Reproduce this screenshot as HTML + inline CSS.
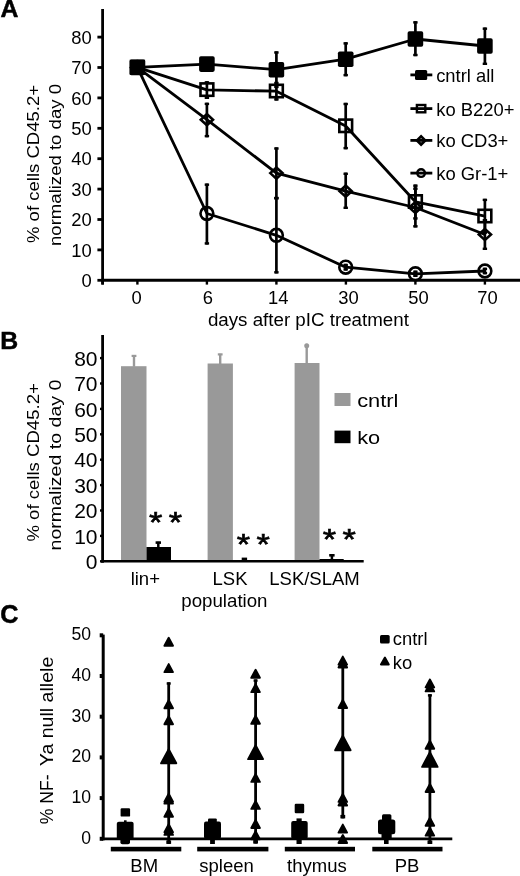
<!DOCTYPE html>
<html><head><meta charset="utf-8"><title>Figure</title>
<style>
html,body{margin:0;padding:0;background:#fff;}
body{width:520px;height:876px;overflow:hidden;}
svg{display:block;}
text{font-family:"Liberation Sans",Arial,sans-serif;fill:#000;}
</style></head><body>
<svg width="520" height="876" viewBox="0 0 520 876">
<rect x="0" y="0" width="520" height="876" fill="#fff"/>
<text x="0.5" y="17.4" font-size="24.8" text-anchor="start" font-weight="bold" stroke="#000" stroke-width="0.5">A</text>
<line x1="102.6" y1="9.0" x2="102.6" y2="284.5" stroke="#000" stroke-width="2.8" />
<line x1="101.2" y1="280.3" x2="520.0" y2="280.3" stroke="#000" stroke-width="3.0" />
<line x1="97.4" y1="280.3" x2="102.6" y2="280.3" stroke="#000" stroke-width="2.8" />
<text x="91.8" y="286.9" font-size="18.4" text-anchor="end" font-weight="normal" >0</text>
<line x1="97.4" y1="249.9" x2="102.6" y2="249.9" stroke="#000" stroke-width="2.8" />
<text x="91.8" y="256.5" font-size="18.4" text-anchor="end" font-weight="normal" >10</text>
<line x1="97.4" y1="219.5" x2="102.6" y2="219.5" stroke="#000" stroke-width="2.8" />
<text x="91.8" y="226.1" font-size="18.4" text-anchor="end" font-weight="normal" >20</text>
<line x1="97.4" y1="189.1" x2="102.6" y2="189.1" stroke="#000" stroke-width="2.8" />
<text x="91.8" y="195.7" font-size="18.4" text-anchor="end" font-weight="normal" >30</text>
<line x1="97.4" y1="158.7" x2="102.6" y2="158.7" stroke="#000" stroke-width="2.8" />
<text x="91.8" y="165.3" font-size="18.4" text-anchor="end" font-weight="normal" >40</text>
<line x1="97.4" y1="128.3" x2="102.6" y2="128.3" stroke="#000" stroke-width="2.8" />
<text x="91.8" y="134.9" font-size="18.4" text-anchor="end" font-weight="normal" >50</text>
<line x1="97.4" y1="97.9" x2="102.6" y2="97.9" stroke="#000" stroke-width="2.8" />
<text x="91.8" y="104.5" font-size="18.4" text-anchor="end" font-weight="normal" >60</text>
<line x1="97.4" y1="67.5" x2="102.6" y2="67.5" stroke="#000" stroke-width="2.8" />
<text x="91.8" y="74.1" font-size="18.4" text-anchor="end" font-weight="normal" >70</text>
<line x1="97.4" y1="37.1" x2="102.6" y2="37.1" stroke="#000" stroke-width="2.8" />
<text x="91.8" y="43.7" font-size="18.4" text-anchor="end" font-weight="normal" >80</text>
<line x1="137.4" y1="280.3" x2="137.4" y2="284.6" stroke="#000" stroke-width="2.4" />
<text x="136.6" y="304.4" font-size="18.4" text-anchor="middle" font-weight="normal" >0</text>
<line x1="206.9" y1="280.3" x2="206.9" y2="284.6" stroke="#000" stroke-width="2.4" />
<text x="207.9" y="304.4" font-size="18.4" text-anchor="middle" font-weight="normal" >6</text>
<line x1="276.4" y1="280.3" x2="276.4" y2="284.6" stroke="#000" stroke-width="2.4" />
<text x="278.2" y="304.4" font-size="18.4" text-anchor="middle" font-weight="normal" >14</text>
<line x1="345.9" y1="280.3" x2="345.9" y2="284.6" stroke="#000" stroke-width="2.4" />
<text x="348.5" y="304.4" font-size="18.4" text-anchor="middle" font-weight="normal" >30</text>
<line x1="415.4" y1="280.3" x2="415.4" y2="284.6" stroke="#000" stroke-width="2.4" />
<text x="418.5" y="304.4" font-size="18.4" text-anchor="middle" font-weight="normal" >50</text>
<line x1="484.9" y1="280.3" x2="484.9" y2="284.6" stroke="#000" stroke-width="2.4" />
<text x="487.5" y="304.4" font-size="18.4" text-anchor="middle" font-weight="normal" >70</text>
<line x1="102.6" y1="280.3" x2="102.6" y2="284.6" stroke="#000" stroke-width="2.4" />
<text x="308.4" y="325.6" font-size="18.7" text-anchor="middle" font-weight="normal" textLength="201" lengthAdjust="spacingAndGlyphs" >days after pIC treatment</text>
<text x="38.6" y="164.0" font-size="17.2" text-anchor="middle" font-weight="normal" textLength="158" lengthAdjust="spacingAndGlyphs" transform="rotate(-90 38.6 164.0)" >% of cells CD45.2+</text>
<text x="60.6" y="165.0" font-size="17.2" text-anchor="middle" font-weight="normal" textLength="162" lengthAdjust="spacingAndGlyphs" transform="rotate(-90 60.6 165.0)" >normalized to day 0</text>
<line x1="276.4" y1="51.3" x2="276.4" y2="88.1" stroke="#000" stroke-width="2.7" />
<line x1="274.2" y1="52.5" x2="278.6" y2="52.5" stroke="#000" stroke-width="2.4" />
<line x1="274.2" y1="86.9" x2="278.6" y2="86.9" stroke="#000" stroke-width="2.4" />
<line x1="345.7" y1="42.2" x2="345.7" y2="76.3" stroke="#000" stroke-width="2.7" />
<line x1="343.5" y1="43.4" x2="347.9" y2="43.4" stroke="#000" stroke-width="2.4" />
<line x1="343.5" y1="75.1" x2="347.9" y2="75.1" stroke="#000" stroke-width="2.4" />
<line x1="415.4" y1="21.2" x2="415.4" y2="56.2" stroke="#000" stroke-width="2.7" />
<line x1="413.2" y1="22.4" x2="417.6" y2="22.4" stroke="#000" stroke-width="2.4" />
<line x1="413.2" y1="55.0" x2="417.6" y2="55.0" stroke="#000" stroke-width="2.4" />
<line x1="484.9" y1="27.5" x2="484.9" y2="65.0" stroke="#000" stroke-width="2.7" />
<line x1="482.7" y1="28.7" x2="487.1" y2="28.7" stroke="#000" stroke-width="2.4" />
<line x1="482.7" y1="63.8" x2="487.1" y2="63.8" stroke="#000" stroke-width="2.4" />
<line x1="206.9" y1="81.2" x2="206.9" y2="99.0" stroke="#000" stroke-width="2.7" />
<line x1="204.7" y1="82.4" x2="209.1" y2="82.4" stroke="#000" stroke-width="2.4" />
<line x1="204.7" y1="97.8" x2="209.1" y2="97.8" stroke="#000" stroke-width="2.4" />
<line x1="276.4" y1="81.8" x2="276.4" y2="100.6" stroke="#000" stroke-width="2.7" />
<line x1="274.2" y1="83.0" x2="278.6" y2="83.0" stroke="#000" stroke-width="2.4" />
<line x1="274.2" y1="99.4" x2="278.6" y2="99.4" stroke="#000" stroke-width="2.4" />
<line x1="345.7" y1="102.8" x2="345.7" y2="149.3" stroke="#000" stroke-width="2.7" />
<line x1="343.5" y1="104.0" x2="347.9" y2="104.0" stroke="#000" stroke-width="2.4" />
<line x1="343.5" y1="148.1" x2="347.9" y2="148.1" stroke="#000" stroke-width="2.4" />
<line x1="415.4" y1="184.5" x2="415.4" y2="219.6" stroke="#000" stroke-width="2.7" />
<line x1="413.2" y1="185.7" x2="417.6" y2="185.7" stroke="#000" stroke-width="2.4" />
<line x1="413.2" y1="218.4" x2="417.6" y2="218.4" stroke="#000" stroke-width="2.4" />
<line x1="484.9" y1="198.8" x2="484.9" y2="233.8" stroke="#000" stroke-width="2.7" />
<line x1="482.7" y1="199.9" x2="487.1" y2="199.9" stroke="#000" stroke-width="2.4" />
<line x1="482.7" y1="232.6" x2="487.1" y2="232.6" stroke="#000" stroke-width="2.4" />
<line x1="206.9" y1="102.7" x2="206.9" y2="137.3" stroke="#000" stroke-width="2.7" />
<line x1="204.7" y1="103.9" x2="209.1" y2="103.9" stroke="#000" stroke-width="2.4" />
<line x1="204.7" y1="136.1" x2="209.1" y2="136.1" stroke="#000" stroke-width="2.4" />
<line x1="276.4" y1="147.3" x2="276.4" y2="199.2" stroke="#000" stroke-width="2.7" />
<line x1="274.2" y1="148.5" x2="278.6" y2="148.5" stroke="#000" stroke-width="2.4" />
<line x1="274.2" y1="198.0" x2="278.6" y2="198.0" stroke="#000" stroke-width="2.4" />
<line x1="345.7" y1="172.6" x2="345.7" y2="209.0" stroke="#000" stroke-width="2.7" />
<line x1="343.5" y1="173.8" x2="347.9" y2="173.8" stroke="#000" stroke-width="2.4" />
<line x1="343.5" y1="207.8" x2="347.9" y2="207.8" stroke="#000" stroke-width="2.4" />
<line x1="415.4" y1="187.5" x2="415.4" y2="227.5" stroke="#000" stroke-width="2.7" />
<line x1="413.2" y1="188.7" x2="417.6" y2="188.7" stroke="#000" stroke-width="2.4" />
<line x1="413.2" y1="226.3" x2="417.6" y2="226.3" stroke="#000" stroke-width="2.4" />
<line x1="484.9" y1="219.0" x2="484.9" y2="250.0" stroke="#000" stroke-width="2.7" />
<line x1="482.7" y1="220.2" x2="487.1" y2="220.2" stroke="#000" stroke-width="2.4" />
<line x1="482.7" y1="248.8" x2="487.1" y2="248.8" stroke="#000" stroke-width="2.4" />
<line x1="206.9" y1="183.5" x2="206.9" y2="244.6" stroke="#000" stroke-width="2.7" />
<line x1="204.7" y1="184.7" x2="209.1" y2="184.7" stroke="#000" stroke-width="2.4" />
<line x1="204.7" y1="243.4" x2="209.1" y2="243.4" stroke="#000" stroke-width="2.4" />
<line x1="276.4" y1="197.1" x2="276.4" y2="273.5" stroke="#000" stroke-width="2.7" />
<line x1="274.2" y1="198.3" x2="278.6" y2="198.3" stroke="#000" stroke-width="2.4" />
<line x1="274.2" y1="272.3" x2="278.6" y2="272.3" stroke="#000" stroke-width="2.4" />
<line x1="345.7" y1="263.8" x2="345.7" y2="270.6" stroke="#000" stroke-width="2.7" />
<line x1="343.5" y1="265.0" x2="347.9" y2="265.0" stroke="#000" stroke-width="2.4" />
<line x1="343.5" y1="269.4" x2="347.9" y2="269.4" stroke="#000" stroke-width="2.4" />
<line x1="415.4" y1="270.6" x2="415.4" y2="277.0" stroke="#000" stroke-width="2.7" />
<line x1="413.2" y1="271.8" x2="417.6" y2="271.8" stroke="#000" stroke-width="2.4" />
<line x1="413.2" y1="275.8" x2="417.6" y2="275.8" stroke="#000" stroke-width="2.4" />
<line x1="484.9" y1="267.7" x2="484.9" y2="274.3" stroke="#000" stroke-width="2.7" />
<line x1="482.7" y1="268.9" x2="487.1" y2="268.9" stroke="#000" stroke-width="2.4" />
<line x1="482.7" y1="273.1" x2="487.1" y2="273.1" stroke="#000" stroke-width="2.4" />
<polyline points="137.4,67.4 206.9,213.5 276.4,235.3 345.7,267.2 415.4,273.8 484.9,271.0" fill="none" stroke="#000" stroke-width="2.8" stroke-linejoin="round"/>
<polyline points="137.4,67.4 206.9,119.7 276.4,173.1 345.7,191.2 415.4,207.5 484.9,234.5" fill="none" stroke="#000" stroke-width="2.8" stroke-linejoin="round"/>
<polyline points="137.4,67.4 206.9,89.8 276.4,91.2 345.7,126.0 415.4,201.8 484.9,216.2" fill="none" stroke="#000" stroke-width="2.8" stroke-linejoin="round"/>
<polyline points="137.4,67.4 206.9,64.1 276.4,69.7 345.7,59.2 415.4,39.0 484.9,46.0" fill="none" stroke="#000" stroke-width="2.8" stroke-linejoin="round"/>
<circle cx="137.4" cy="67.4" r="6.4" fill="none" stroke="#000" stroke-width="2.6"/>
<circle cx="206.9" cy="213.5" r="6.4" fill="none" stroke="#000" stroke-width="2.6"/>
<circle cx="276.4" cy="235.3" r="6.4" fill="none" stroke="#000" stroke-width="2.6"/>
<circle cx="345.7" cy="267.2" r="6.4" fill="none" stroke="#000" stroke-width="2.6"/>
<circle cx="415.4" cy="273.8" r="6.4" fill="none" stroke="#000" stroke-width="2.6"/>
<circle cx="484.9" cy="271.0" r="6.4" fill="none" stroke="#000" stroke-width="2.6"/>
<polygon points="131.3,67.4 137.4,61.8 143.5,67.4 137.4,73.0" fill="none" stroke="#000" stroke-width="2.6" stroke-linejoin="miter"/>
<polygon points="200.8,119.7 206.9,114.1 213.0,119.7 206.9,125.3" fill="none" stroke="#000" stroke-width="2.6" stroke-linejoin="miter"/>
<polygon points="270.3,173.1 276.4,167.5 282.5,173.1 276.4,178.7" fill="none" stroke="#000" stroke-width="2.6" stroke-linejoin="miter"/>
<polygon points="339.6,191.2 345.7,185.6 351.8,191.2 345.7,196.8" fill="none" stroke="#000" stroke-width="2.6" stroke-linejoin="miter"/>
<polygon points="409.3,207.5 415.4,201.9 421.5,207.5 415.4,213.1" fill="none" stroke="#000" stroke-width="2.6" stroke-linejoin="miter"/>
<polygon points="478.8,234.5 484.9,228.9 491.0,234.5 484.9,240.1" fill="none" stroke="#000" stroke-width="2.6" stroke-linejoin="miter"/>
<rect x="131.0" y="61.0" width="12.8" height="12.4" fill="none" stroke="#000" stroke-width="2.6" rx="0"/>
<rect x="200.5" y="83.4" width="12.8" height="12.4" fill="none" stroke="#000" stroke-width="2.6" rx="0"/>
<rect x="270.0" y="84.8" width="12.8" height="12.4" fill="none" stroke="#000" stroke-width="2.6" rx="0"/>
<rect x="339.3" y="119.6" width="12.8" height="12.4" fill="none" stroke="#000" stroke-width="2.6" rx="0"/>
<rect x="409.0" y="195.3" width="12.8" height="12.4" fill="none" stroke="#000" stroke-width="2.6" rx="0"/>
<rect x="478.5" y="209.8" width="12.8" height="12.4" fill="none" stroke="#000" stroke-width="2.6" rx="0"/>
<rect x="129.6" y="59.6" width="15.6" height="15.6" fill="#000" stroke="none" stroke-width="0" rx="1.8"/>
<rect x="199.1" y="56.3" width="15.6" height="15.6" fill="#000" stroke="none" stroke-width="0" rx="1.8"/>
<rect x="268.6" y="61.9" width="15.6" height="15.6" fill="#000" stroke="none" stroke-width="0" rx="1.8"/>
<rect x="337.9" y="51.4" width="15.6" height="15.6" fill="#000" stroke="none" stroke-width="0" rx="1.8"/>
<rect x="407.6" y="31.2" width="15.6" height="15.6" fill="#000" stroke="none" stroke-width="0" rx="1.8"/>
<rect x="477.1" y="38.2" width="15.6" height="15.6" fill="#000" stroke="none" stroke-width="0" rx="1.8"/>
<line x1="410.4" y1="74.9" x2="432.3" y2="74.9" stroke="#000" stroke-width="2.8" />
<rect x="415.0" y="69.9" width="12.2" height="10.0" fill="#000" stroke="none" stroke-width="0" rx="1.5"/>
<text x="436.2" y="81.8" font-size="17.9" text-anchor="start" font-weight="normal" textLength="58.2" lengthAdjust="spacingAndGlyphs" >cntrl all</text>
<line x1="410.4" y1="108.6" x2="432.3" y2="108.6" stroke="#000" stroke-width="2.8" />
<rect x="416.9" y="105.0" width="8.4" height="7.3" fill="none" stroke="#000" stroke-width="2.4" rx="0"/>
<text x="436.2" y="115.5" font-size="17.9" text-anchor="start" font-weight="normal" textLength="78.2" lengthAdjust="spacingAndGlyphs" >ko B220+</text>
<line x1="410.4" y1="140.4" x2="432.3" y2="140.4" stroke="#000" stroke-width="2.8" />
<polygon points="417.0,140.4 421.1,136.3 425.2,140.4 421.1,144.5" fill="none" stroke="#000" stroke-width="2.7"/>
<text x="436.2" y="147.3" font-size="17.9" text-anchor="start" font-weight="normal" textLength="72.2" lengthAdjust="spacingAndGlyphs" >ko CD3+</text>
<line x1="410.4" y1="173.1" x2="432.3" y2="173.1" stroke="#000" stroke-width="2.8" />
<circle cx="421.1" cy="173.1" r="3.8" fill="none" stroke="#000" stroke-width="2.4"/>
<text x="436.2" y="180.0" font-size="17.9" text-anchor="start" font-weight="normal" textLength="72.2" lengthAdjust="spacingAndGlyphs" >ko Gr-1+</text>
<text x="0.2" y="348.6" font-size="24.8" text-anchor="start" font-weight="bold" stroke="#000" stroke-width="0.5">B</text>
<line x1="100.0" y1="561.3" x2="102.6" y2="561.3" stroke="#000" stroke-width="2.4" />
<text x="97.5" y="569.0" font-size="21" text-anchor="end" font-weight="normal" >0</text>
<line x1="100.0" y1="535.9" x2="102.6" y2="535.9" stroke="#000" stroke-width="2.4" />
<text x="97.5" y="543.6" font-size="21" text-anchor="end" font-weight="normal" >10</text>
<line x1="100.0" y1="510.5" x2="102.6" y2="510.5" stroke="#000" stroke-width="2.4" />
<text x="97.5" y="518.2" font-size="21" text-anchor="end" font-weight="normal" >20</text>
<line x1="100.0" y1="485.1" x2="102.6" y2="485.1" stroke="#000" stroke-width="2.4" />
<text x="97.5" y="492.8" font-size="21" text-anchor="end" font-weight="normal" >30</text>
<line x1="100.0" y1="459.7" x2="102.6" y2="459.7" stroke="#000" stroke-width="2.4" />
<text x="97.5" y="467.4" font-size="21" text-anchor="end" font-weight="normal" >40</text>
<line x1="100.0" y1="434.3" x2="102.6" y2="434.3" stroke="#000" stroke-width="2.4" />
<text x="97.5" y="442.0" font-size="21" text-anchor="end" font-weight="normal" >50</text>
<line x1="100.0" y1="408.9" x2="102.6" y2="408.9" stroke="#000" stroke-width="2.4" />
<text x="97.5" y="416.6" font-size="21" text-anchor="end" font-weight="normal" >60</text>
<line x1="100.0" y1="383.5" x2="102.6" y2="383.5" stroke="#000" stroke-width="2.4" />
<text x="97.5" y="391.2" font-size="21" text-anchor="end" font-weight="normal" >70</text>
<line x1="100.0" y1="358.1" x2="102.6" y2="358.1" stroke="#000" stroke-width="2.4" />
<text x="97.5" y="365.8" font-size="21" text-anchor="end" font-weight="normal" >80</text>
<rect x="121.0" y="366.2" width="25.5" height="195.1" fill="#999999" stroke="none" stroke-width="0" rx="0"/>
<line x1="134.0" y1="355.3" x2="134.0" y2="366.7" stroke="#999999" stroke-width="2.4" />
<rect x="131.6" y="354.8" width="4.8" height="2.2" fill="#999999" stroke="none" stroke-width="0" rx="0"/>
<rect x="207.6" y="363.5" width="25.3" height="197.8" fill="#999999" stroke="none" stroke-width="0" rx="0"/>
<line x1="220.2" y1="353.8" x2="220.2" y2="364.0" stroke="#999999" stroke-width="2.4" />
<rect x="217.8" y="353.3" width="4.8" height="2.2" fill="#999999" stroke="none" stroke-width="0" rx="0"/>
<rect x="294.6" y="363.0" width="24.9" height="198.3" fill="#999999" stroke="none" stroke-width="0" rx="0"/>
<line x1="306.7" y1="343.9" x2="306.7" y2="363.5" stroke="#999999" stroke-width="2.4" />
<circle cx="306.7" cy="345.79999999999995" r="2.5" fill="#999999"/>
<rect x="146.5" y="547.0" width="24.5" height="14.8" fill="#000" stroke="none" stroke-width="0" rx="0"/>
<line x1="158.3" y1="541.8" x2="158.3" y2="547.0" stroke="#000" stroke-width="2.5" />
<rect x="155.6" y="541.3" width="5.4" height="2.6" fill="#000" stroke="none" stroke-width="0" rx="0"/>
<rect x="232.9" y="561.0" width="24.1" height="0.8" fill="#000" stroke="none" stroke-width="0" rx="0"/>
<line x1="244.4" y1="558.1" x2="244.4" y2="561.1" stroke="#000" stroke-width="2.5" />
<rect x="241.7" y="557.6" width="5.4" height="2.6" fill="#000" stroke="none" stroke-width="0" rx="0"/>
<rect x="319.5" y="559.0" width="24.2" height="2.8" fill="#000" stroke="none" stroke-width="0" rx="0"/>
<line x1="331.9" y1="554.5" x2="331.9" y2="559.0" stroke="#000" stroke-width="2.5" />
<rect x="329.2" y="554.0" width="5.4" height="2.6" fill="#000" stroke="none" stroke-width="0" rx="0"/>
<line x1="102.6" y1="335.0" x2="102.6" y2="562.7" stroke="#000" stroke-width="2.8" />
<line x1="101.2" y1="561.3" x2="363.7" y2="561.3" stroke="#000" stroke-width="2.6" />
<text x="0" y="0" font-size="33" text-anchor="middle" transform="translate(155.7 531.5) scale(1.04 0.9)" stroke="#000" stroke-width="0.7">*</text>
<text x="0" y="0" font-size="33" text-anchor="middle" transform="translate(175.4 531.5) scale(1.04 0.9)" stroke="#000" stroke-width="0.7">*</text>
<text x="0" y="0" font-size="33" text-anchor="middle" transform="translate(243.4 554.0) scale(1.04 0.9)" stroke="#000" stroke-width="0.7">*</text>
<text x="0" y="0" font-size="33" text-anchor="middle" transform="translate(263.1 554.0) scale(1.04 0.9)" stroke="#000" stroke-width="0.7">*</text>
<text x="0" y="0" font-size="33" text-anchor="middle" transform="translate(329.4 548.5) scale(1.04 0.9)" stroke="#000" stroke-width="0.7">*</text>
<text x="0" y="0" font-size="33" text-anchor="middle" transform="translate(349.1 548.5) scale(1.04 0.9)" stroke="#000" stroke-width="0.7">*</text>
<text x="145.3" y="584.6" font-size="18.5" text-anchor="middle" font-weight="normal" >lin+</text>
<text x="230.0" y="584.6" font-size="18.5" text-anchor="middle" font-weight="normal" >LSK</text>
<text x="314.5" y="584.6" font-size="18.5" text-anchor="middle" font-weight="normal" >LSK/SLAM</text>
<text x="224.4" y="606.8" font-size="18.7" text-anchor="middle" font-weight="normal" >population</text>
<rect x="334.5" y="393.0" width="16.0" height="13.0" fill="#999999" stroke="none" stroke-width="0" rx="0"/>
<text x="357.2" y="407.3" font-size="17.6" text-anchor="start" font-weight="normal" textLength="41.3" lengthAdjust="spacingAndGlyphs" >cntrl</text>
<rect x="334.5" y="430.6" width="16.0" height="12.6" fill="#000" stroke="none" stroke-width="0" rx="0"/>
<text x="357.2" y="444.0" font-size="17.6" text-anchor="start" font-weight="normal" textLength="23" lengthAdjust="spacingAndGlyphs" >ko</text>
<text x="38.6" y="462.4" font-size="16.4" text-anchor="middle" font-weight="normal" textLength="158.4" lengthAdjust="spacingAndGlyphs" transform="rotate(-90 38.6 462.4)" >% of cells CD45.2+</text>
<text x="60.9" y="465.0" font-size="16.4" text-anchor="middle" font-weight="normal" textLength="171" lengthAdjust="spacingAndGlyphs" transform="rotate(-90 60.9 465.0)" >normalized to day 0</text>
<text x="0.2" y="622.6" font-size="25.2" text-anchor="start" font-weight="bold" stroke="#000" stroke-width="0.5">C</text>
<line x1="103.2" y1="634.6" x2="103.2" y2="840.3" stroke="#000" stroke-width="3" />
<line x1="101.7" y1="838.8" x2="452.3" y2="838.8" stroke="#000" stroke-width="2.8" />
<line x1="99.7" y1="838.8" x2="103.2" y2="838.8" stroke="#000" stroke-width="4.0" />
<text x="91.0" y="843.7" font-size="17.6" text-anchor="end" font-weight="normal" >0</text>
<line x1="99.7" y1="798.1" x2="103.2" y2="798.1" stroke="#000" stroke-width="4.0" />
<text x="91.0" y="803.0" font-size="17.6" text-anchor="end" font-weight="normal" >10</text>
<line x1="99.7" y1="757.4" x2="103.2" y2="757.4" stroke="#000" stroke-width="4.0" />
<text x="91.0" y="762.3" font-size="17.6" text-anchor="end" font-weight="normal" >20</text>
<line x1="99.7" y1="716.7" x2="103.2" y2="716.7" stroke="#000" stroke-width="4.0" />
<text x="91.0" y="721.6" font-size="17.6" text-anchor="end" font-weight="normal" >30</text>
<line x1="99.7" y1="676.0" x2="103.2" y2="676.0" stroke="#000" stroke-width="4.0" />
<text x="91.0" y="680.9" font-size="17.6" text-anchor="end" font-weight="normal" >40</text>
<line x1="99.7" y1="635.3" x2="103.2" y2="635.3" stroke="#000" stroke-width="4.0" />
<text x="91.0" y="640.2" font-size="17.6" text-anchor="end" font-weight="normal" >50</text>
<text x="53.0" y="824.3" font-size="18.5" text-anchor="start" font-weight="normal" textLength="50" lengthAdjust="spacingAndGlyphs" transform="rotate(-90 53.0 824.3)" >% NF-</text>
<text x="53.0" y="766.2" font-size="18.5" text-anchor="start" font-weight="normal" textLength="109.5" lengthAdjust="spacingAndGlyphs" transform="rotate(-90 53.0 766.2)" >Ya null allele</text>
<rect x="110.8" y="846.8" width="70.5" height="4.6" fill="#000" stroke="none" stroke-width="0" rx="0"/>
<text x="144.2" y="871.7" font-size="18.5" text-anchor="middle" font-weight="normal" >BM</text>
<rect x="197.2" y="846.8" width="71.2" height="4.6" fill="#000" stroke="none" stroke-width="0" rx="0"/>
<text x="226.6" y="871.7" font-size="18.5" text-anchor="middle" font-weight="normal" >spleen</text>
<rect x="284.8" y="846.8" width="70.2" height="4.6" fill="#000" stroke="none" stroke-width="0" rx="0"/>
<text x="316.9" y="871.7" font-size="18.5" text-anchor="middle" font-weight="normal" >thymus</text>
<rect x="372.3" y="846.8" width="70.2" height="4.6" fill="#000" stroke="none" stroke-width="0" rx="0"/>
<text x="407.0" y="871.7" font-size="18.5" text-anchor="middle" font-weight="normal" >PB</text>
<line x1="168.7" y1="682.3" x2="168.7" y2="843.9" stroke="#000" stroke-width="2.8" />
<rect x="166.7" y="682.3" width="4.0" height="2.4" fill="#000" stroke="none" stroke-width="0" rx="0"/>
<rect x="166.3" y="840.4" width="4.8" height="3.5" fill="#000" stroke="none" stroke-width="0" rx="0"/>
<polygon points="164.4,645.8 173.0,645.8 168.7,637.8" fill="#000" stroke="#000" stroke-width="1.9" stroke-linejoin="round"/>
<polygon points="164.4,672.1 173.0,672.1 168.7,664.1" fill="#000" stroke="#000" stroke-width="1.9" stroke-linejoin="round"/>
<polygon points="164.4,708.3 173.0,708.3 168.7,700.2" fill="#000" stroke="#000" stroke-width="1.9" stroke-linejoin="round"/>
<polygon points="164.4,724.3 173.0,724.3 168.7,716.2" fill="#000" stroke="#000" stroke-width="1.9" stroke-linejoin="round"/>
<polygon points="164.4,801.8 173.0,801.8 168.7,793.8" fill="#000" stroke="#000" stroke-width="1.9" stroke-linejoin="round"/>
<polygon points="164.4,803.6 173.0,803.6 168.7,795.6" fill="#000" stroke="#000" stroke-width="1.9" stroke-linejoin="round"/>
<polygon points="164.4,816.8 173.0,816.8 168.7,808.8" fill="#000" stroke="#000" stroke-width="1.9" stroke-linejoin="round"/>
<polygon points="164.4,832.2 173.0,832.2 168.7,824.2" fill="#000" stroke="#000" stroke-width="1.9" stroke-linejoin="round"/>
<polygon points="164.4,834.9 173.0,834.9 168.7,826.9" fill="#000" stroke="#000" stroke-width="1.9" stroke-linejoin="round"/>
<polygon points="161.1,763.3 176.3,763.3 168.7,749.1" fill="#000" stroke="#000" stroke-width="1.9" stroke-linejoin="round"/>
<rect x="120.6" y="808.2" width="9.5" height="8.4" fill="#000" stroke="none" stroke-width="0" rx="1.2"/>
<rect x="116.8" y="821.7" width="16.8" height="17.5" fill="#000" stroke="none" stroke-width="0" rx="2"/>
<rect x="124.0" y="820.3" width="2.6" height="2.0" fill="#000" stroke="none" stroke-width="0" rx="0"/>
<rect x="120.4" y="838.0" width="9.6" height="6.2" fill="#000" stroke="none" stroke-width="0" rx="2"/>
<line x1="255.6" y1="679.4" x2="255.6" y2="843.6" stroke="#000" stroke-width="2.8" />
<rect x="253.6" y="679.4" width="4.0" height="2.4" fill="#000" stroke="none" stroke-width="0" rx="0"/>
<rect x="253.2" y="840.1" width="4.8" height="3.5" fill="#000" stroke="none" stroke-width="0" rx="0"/>
<polygon points="251.3,677.8 259.9,677.8 255.6,669.8" fill="#000" stroke="#000" stroke-width="1.9" stroke-linejoin="round"/>
<polygon points="251.3,692.1 259.9,692.1 255.6,684.1" fill="#000" stroke="#000" stroke-width="1.9" stroke-linejoin="round"/>
<polygon points="251.3,723.8 259.9,723.8 255.6,715.7" fill="#000" stroke="#000" stroke-width="1.9" stroke-linejoin="round"/>
<polygon points="251.3,781.9 259.9,781.9 255.6,773.9" fill="#000" stroke="#000" stroke-width="1.9" stroke-linejoin="round"/>
<polygon points="251.3,808.9 259.9,808.9 255.6,800.9" fill="#000" stroke="#000" stroke-width="1.9" stroke-linejoin="round"/>
<polygon points="251.3,828.0 259.9,828.0 255.6,820.0" fill="#000" stroke="#000" stroke-width="1.9" stroke-linejoin="round"/>
<polygon points="251.3,839.3 259.9,839.3 255.6,831.2" fill="#000" stroke="#000" stroke-width="1.9" stroke-linejoin="round"/>
<polygon points="248.1,759.1 263.1,759.1 255.6,745.3" fill="#000" stroke="#000" stroke-width="1.9" stroke-linejoin="round"/>
<rect x="204.0" y="821.6" width="17.0" height="17.5" fill="#000" stroke="none" stroke-width="0" rx="2"/>
<rect x="208.0" y="818.4" width="8.8" height="5.0" fill="#000" stroke="none" stroke-width="0" rx="1.2"/>
<rect x="210.1" y="838.0" width="4.8" height="6.0" fill="#000" stroke="none" stroke-width="0" rx="0"/>
<line x1="342.8" y1="664.0" x2="342.8" y2="818.4" stroke="#000" stroke-width="2.8" />
<rect x="340.4" y="814.9" width="4.8" height="3.5" fill="#000" stroke="none" stroke-width="0" rx="0"/>
<polygon points="338.5,664.6 347.1,664.6 342.8,656.6" fill="#000" stroke="#000" stroke-width="1.9" stroke-linejoin="round"/>
<polygon points="338.5,667.5 347.1,667.5 342.8,659.5" fill="#000" stroke="#000" stroke-width="1.9" stroke-linejoin="round"/>
<polygon points="338.5,708.0 347.1,708.0 342.8,700.0" fill="#000" stroke="#000" stroke-width="1.9" stroke-linejoin="round"/>
<polygon points="338.5,801.9 347.1,801.9 342.8,793.9" fill="#000" stroke="#000" stroke-width="1.9" stroke-linejoin="round"/>
<polygon points="338.5,805.5 347.1,805.5 342.8,797.5" fill="#000" stroke="#000" stroke-width="1.9" stroke-linejoin="round"/>
<polygon points="338.5,832.6 347.1,832.6 342.8,824.6" fill="#000" stroke="#000" stroke-width="1.9" stroke-linejoin="round"/>
<polygon points="338.5,843.0 347.1,843.0 342.8,835.0" fill="#000" stroke="#000" stroke-width="1.9" stroke-linejoin="round"/>
<polygon points="335.1,750.3 350.6,750.3 342.8,735.7" fill="#000" stroke="#000" stroke-width="1.9" stroke-linejoin="round"/>
<rect x="294.7" y="803.7" width="9.5" height="9.5" fill="#000" stroke="none" stroke-width="0" rx="1.2"/>
<rect x="291.2" y="821.0" width="16.5" height="18.0" fill="#000" stroke="none" stroke-width="0" rx="2"/>
<rect x="296.5" y="818.4" width="5.2" height="4.0" fill="#000" stroke="none" stroke-width="0" rx="0"/>
<rect x="296.5" y="838.0" width="5.2" height="6.0" fill="#000" stroke="none" stroke-width="0" rx="0"/>
<line x1="429.9" y1="694.2" x2="429.9" y2="844.0" stroke="#000" stroke-width="2.8" />
<rect x="427.9" y="694.2" width="4.0" height="2.4" fill="#000" stroke="none" stroke-width="0" rx="0"/>
<rect x="427.5" y="840.5" width="4.8" height="3.5" fill="#000" stroke="none" stroke-width="0" rx="0"/>
<polygon points="425.6,687.4 434.2,687.4 429.9,679.4" fill="#000" stroke="#000" stroke-width="1.9" stroke-linejoin="round"/>
<polygon points="425.6,691.4 434.2,691.4 429.9,683.4" fill="#000" stroke="#000" stroke-width="1.9" stroke-linejoin="round"/>
<polygon points="425.6,748.8 434.2,748.8 429.9,740.8" fill="#000" stroke="#000" stroke-width="1.9" stroke-linejoin="round"/>
<polygon points="425.6,792.0 434.2,792.0 429.9,784.0" fill="#000" stroke="#000" stroke-width="1.9" stroke-linejoin="round"/>
<polygon points="425.6,825.8 434.2,825.8 429.9,817.8" fill="#000" stroke="#000" stroke-width="1.9" stroke-linejoin="round"/>
<polygon points="425.6,835.6 434.2,835.6 429.9,827.6" fill="#000" stroke="#000" stroke-width="1.9" stroke-linejoin="round"/>
<polygon points="422.1,766.9 437.6,766.9 429.9,752.1" fill="#000" stroke="#000" stroke-width="1.9" stroke-linejoin="round"/>
<rect x="378.0" y="819.4" width="17.3" height="14.8" fill="#000" stroke="none" stroke-width="0" rx="2.5"/>
<rect x="382.0" y="814.3" width="9.4" height="8.0" fill="#000" stroke="none" stroke-width="0" rx="1.5"/>
<rect x="381.5" y="830.0" width="10.2" height="9.0" fill="#000" stroke="none" stroke-width="0" rx="1.5"/>
<rect x="384.0" y="838.0" width="4.6" height="6.0" fill="#000" stroke="none" stroke-width="0" rx="0"/>
<rect x="380.0" y="635.0" width="9.7" height="8.6" fill="#000" stroke="none" stroke-width="0" rx="1.5"/>
<text x="392.8" y="645.0" font-size="18.4" text-anchor="start" font-weight="normal" >cntrl</text>
<polygon points="380.9,664.5 388.8,664.5 384.9,657.5" fill="#000" stroke="#000" stroke-width="1.9" stroke-linejoin="round"/>
<text x="392.8" y="668.5" font-size="18.4" text-anchor="start" font-weight="normal" >ko</text>
</svg>
</body></html>
